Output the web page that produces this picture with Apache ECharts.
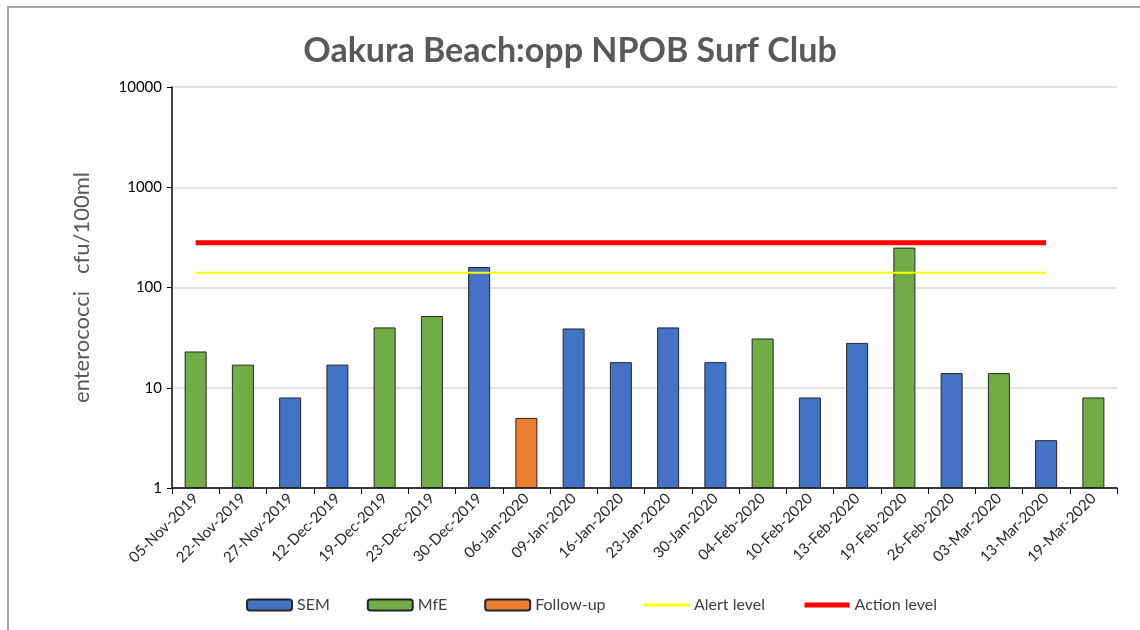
<!DOCTYPE html>
<html>
<head>
<meta charset="utf-8">
<script src="https://cdn.jsdelivr.net/npm/echarts@6/dist/echarts.min.js"></script>
<style>
  html, body { margin: 0; padding: 0; background: #fff; }
  #chart { width: 1140px; height: 630px; }
</style>
</head>
<body>
<div id="chart"></div>
<script>
// sample dates
const dates = ['05-Nov-2019', '22-Nov-2019', '27-Nov-2019', '12-Dec-2019', '19-Dec-2019',
  '23-Dec-2019', '30-Dec-2019', '06-Jan-2020', '09-Jan-2020', '16-Jan-2020', '23-Jan-2020',
  '30-Jan-2020', '04-Feb-2020', '10-Feb-2020', '13-Feb-2020', '19-Feb-2020', '26-Feb-2020',
  '03-Mar-2020', '13-Mar-2020', '19-Mar-2020'];
// enterococci cfu/100ml
const counts = [23, 17, 8, 17, 40, 52, 160, 5, 39, 18, 40, 18, 31, 8, 28, 250, 14, 14, 3, 8];
// who took the sample
const sources = ['MfE', 'MfE', 'SEM', 'SEM', 'MfE', 'MfE', 'SEM', 'Follow-up', 'SEM', 'SEM',
  'SEM', 'SEM', 'MfE', 'SEM', 'SEM', 'MfE', 'SEM', 'MfE', 'SEM', 'MfE'];
const alertLevel = 140;
const actionLevel = 280;
const levelEnd = 19; // guideline lines stop at 13-Mar

const colors = { 'SEM': '#4472C4', 'MfE': '#70AD47', 'Follow-up': '#ED7D31' };
const font = 'Lato, "Open Sans", sans-serif';

function barSeries(name) {
  return {
    name: name,
    type: 'bar',
    barWidth: 22,
    barGap: '-100%',
    data: counts.map((v, i) => (sources[i] === name ? v : null)),
    itemStyle: { color: colors[name], borderColor: '#262626', borderWidth: 1 }
  };
}

function levelSeries(name, level, color, width) {
  return {
    name: name,
    type: 'line',
    symbol: 'none',
    data: dates.map((d, i) => (i < levelEnd ? level : null)),
    lineStyle: { color: color, width: width },
    itemStyle: { color: color },
    z: 5
  };
}

let myChart = echarts.init(document.getElementById('chart'));

let option = {
  animation: false,
  textStyle: { fontFamily: font },
  graphic: [{
    type: 'rect',
    shape: { x: 8, y: 7, width: 1160, height: 660 },
    style: { fill: 'none', stroke: '#a6a6a6', lineWidth: 2 }
  }],
  title: {
    text: 'Oakura Beach:opp NPOB Surf Club',
    left: 'center',
    top: 29,
    textStyle: { fontSize: 34, fontWeight: 'bold', color: '#595959', fontFamily: font }
  },
  grid: { left: 172, right: 23, top: 87, bottom: 142 },
  legend: {
    bottom: 12,
    left: 241,
    itemWidth: 45,
    itemHeight: 11,
    itemGap: 37,
    textStyle: { fontSize: 16, color: '#404040' },
    data: [
      'SEM', 'MfE', 'Follow-up',
      { name: 'Alert level', itemStyle: { opacity: 0 }, lineStyle: { width: 3 } },
      { name: 'Action level', itemStyle: { opacity: 0 }, lineStyle: { width: 5 } }
    ]
  },
  xAxis: {
    type: 'category',
    data: dates,
    axisLine: { lineStyle: { color: '#000', width: 1.5 } },
    axisTick: { show: true, length: 6, lineStyle: { color: '#000' } },
    axisLabel: { rotate: 45, fontSize: 15, color: '#262626', margin: 8, interval: 0 }
  },
  yAxis: {
    type: 'log',
    logBase: 10,
    min: 1,
    max: 10000,
    name: 'enterococci   cfu/100ml',
    nameLocation: 'middle',
    nameGap: 79,
    nameTextStyle: { fontSize: 22, color: '#595959' },
    axisLine: { show: true, lineStyle: { color: '#000', width: 1.5 } },
    axisTick: { show: true, length: 5, lineStyle: { color: '#000' } },
    axisLabel: { fontSize: 15, color: '#000', margin: 10, formatter: (v) => String(v) },
    splitLine: { lineStyle: { color: '#d9d9d9', width: 1.5 } }
  },
  series: [
    barSeries('SEM'),
    barSeries('MfE'),
    barSeries('Follow-up'),
    levelSeries('Alert level', alertLevel, '#FFFF00', 2),
    levelSeries('Action level', actionLevel, '#FF0000', 5)
  ]
};

myChart.setOption(option);
</script>
</body>
</html>
